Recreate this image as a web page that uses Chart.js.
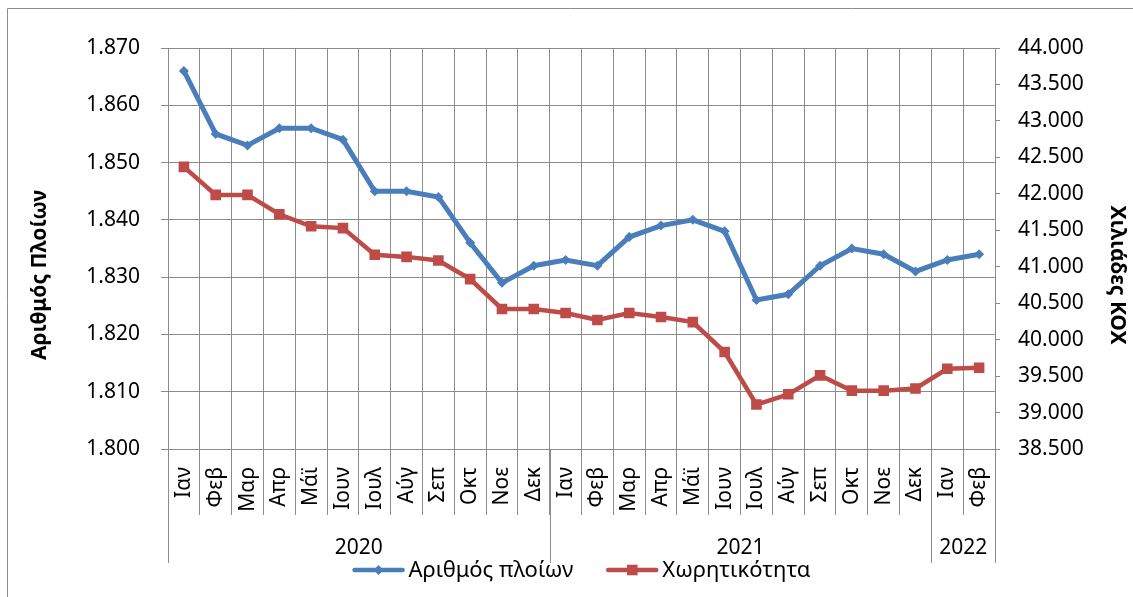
<!DOCTYPE html>
<html>
<head>
<meta charset="utf-8">
<script src="https://cdn.jsdelivr.net/npm/chart.js@4.4.0/dist/chart.umd.min.js"></script>
<style>
  html, body { margin: 0; padding: 0; background: #fff; }
  #wrap { width: 1133px; height: 597px; }
</style>
</head>
<body>
<div id="wrap"><canvas id="shipsChart" width="1133" height="597"></canvas></div>
<script>
const months = ['Ιαν', 'Φεβ', 'Μαρ', 'Απρ', 'Μάϊ', 'Ιουν', 'Ιουλ', 'Αύγ', 'Σεπ', 'Οκτ', 'Νοε', 'Δεκ',
                'Ιαν', 'Φεβ', 'Μαρ', 'Απρ', 'Μάϊ', 'Ιουν', 'Ιουλ', 'Αύγ', 'Σεπ', 'Οκτ', 'Νοε', 'Δεκ',
                'Ιαν', 'Φεβ'];
const years = ['2020', '2021', '2022'];
const yearSpans = [12, 12, 2];

// Αριθμός πλοίων (αριστερός άξονας)
const ships = [1866, 1855, 1853, 1856, 1856, 1854, 1845, 1845, 1844, 1836, 1829, 1832,
               1833, 1832, 1837, 1839, 1840, 1838, 1826, 1827, 1832, 1835, 1834, 1831,
               1833, 1834];
// Χωρητικότητα σε ΚΟΧ (δεξιός άξονας)
const capacity = [42370, 41985, 41985, 41720, 41555, 41530, 41165, 41135, 41085, 40830, 40420, 40420,
                  40365, 40270, 40365, 40310, 40240, 39830, 39110, 39250, 39510, 39300, 39300, 39330,
                  39600, 39615];

const FONT = 'Noto Sans';
const GRID = '#8c8c8c';
const BLUE = '#4A7EBB';
const RED = '#BE4B48';

function dotted(v) {
    return String(v).replace(/\B(?=(\d{3})+(?!\d))/g, '.');
}

function drawMarker(ctx, style, x, y, color) {
    ctx.fillStyle = color;
    ctx.beginPath();
    if (style === 'rectRot') {
        ctx.moveTo(x, y - 5);
        ctx.lineTo(x + 5, y);
        ctx.lineTo(x, y + 5);
        ctx.lineTo(x - 5, y);
        ctx.closePath();
    } else {
        ctx.rect(x - 5.3, y - 5.3, 10.6, 10.6);
    }
    ctx.fill();
}

// Έτη, διαχωριστικά, τίτλοι αξόνων, υπόμνημα
const extras = {
    id: 'extras',
    afterDraw(chart) {
        const ctx = chart.ctx;
        const x = chart.scales.x;
        const area = chart.chartArea;
        const step = x.width / months.length;

        ctx.save();
        ctx.strokeStyle = GRID;
        ctx.lineWidth = 1;

        // πλαίσιο
        ctx.beginPath();
        ctx.moveTo(7.5, 597);
        ctx.lineTo(7.5, 8.5);
        ctx.lineTo(1133, 8.5);
        ctx.stroke();

        // έτη
        ctx.font = '21px "' + FONT + '"';
        ctx.fillStyle = '#000';
        ctx.textAlign = 'center';
        ctx.textBaseline = 'middle';
        let start = 0;
        const sepBottom = area.bottom + 114;
        years.forEach((yr, i) => {
            const x0 = x.left + start * step;
            const x1 = x0 + yearSpans[i] * step;
            ctx.beginPath();
            ctx.moveTo(Math.round(x0) + 0.5, area.bottom);
            ctx.lineTo(Math.round(x0) + 0.5, sepBottom);
            if (i === years.length - 1) {
                ctx.moveTo(Math.round(x1) + 0.5, area.bottom);
                ctx.lineTo(Math.round(x1) + 0.5, sepBottom);
            }
            ctx.stroke();
            ctx.fillText(yr, (x0 + x1) / 2, area.bottom + 99);
            start += yearSpans[i];
        });

        // τίτλοι αξόνων
        ctx.font = 'bold 21px "' + FONT + '"';
        ctx.save();
        ctx.translate(40, 275);
        ctx.rotate(-Math.PI / 2);
        ctx.fillText('Αριθμός Πλοίων', 0, 0);
        ctx.restore();
        ctx.save();
        ctx.translate(1117, 275);
        ctx.rotate(Math.PI / 2);
        ctx.fillText('Χιλιάδες ΚΟΧ', 0, 0);
        ctx.restore();

        // υπόμνημα
        ctx.font = '22px "' + FONT + '"';
        ctx.textAlign = 'left';
        const sets = chart.data.datasets;
        const sample = 52, gapText = 4, gapItem = 33;
        const widths = sets.map(d => ctx.measureText(d.label).width);
        const total = sets.length * (sample + gapText) + widths.reduce((a, b) => a + b, 0) + gapItem * (sets.length - 1);
        let lx = (area.left + area.right) / 2 - total / 2;
        const ly = 570;
        sets.forEach((d, i) => {
            ctx.strokeStyle = d.borderColor;
            ctx.lineWidth = 4.5;
            ctx.lineCap = 'round';
            ctx.beginPath();
            ctx.moveTo(lx + 2, ly);
            ctx.lineTo(lx + sample - 2, ly);
            ctx.stroke();
            drawMarker(ctx, d.pointStyle, lx + sample / 2, ly, d.borderColor);
            ctx.fillStyle = '#000';
            ctx.fillText(d.label, lx + sample + gapText, ly + 1);
            lx += sample + gapText + widths[i] + gapItem;
        });
        ctx.restore();
    }
};

const tickFont = { family: FONT, size: 21 };

new Chart(document.getElementById('shipsChart').getContext('2d'), {
    type: 'line',
    data: {
        labels: months,
        datasets: [{
            label: 'Αριθμός πλοίων',
            data: ships,
            yAxisID: 'y',
            borderColor: BLUE,
            backgroundColor: BLUE,
            borderWidth: 5,
            pointStyle: 'rectRot',
            pointRadius: 5,
            pointBorderWidth: 0,
            tension: 0
        }, {
            label: 'Χωρητικότητα',
            data: capacity,
            yAxisID: 'y1',
            borderColor: RED,
            backgroundColor: RED,
            borderWidth: 4.5,
            pointStyle: 'rect',
            pointRadius: 7.5,
            pointBorderWidth: 0,
            tension: 0
        }]
    },
    options: {
        responsive: false,
        animation: false,
        layout: { padding: { left: 68, right: 38, top: 48, bottom: 48 } },
        plugins: {
            legend: { display: false },
            tooltip: { enabled: false }
        },
        scales: {
            x: {
                offset: true,
                grid: { offset: true, color: GRID, tickColor: GRID, tickLength: 66 },
                border: { color: GRID },
                ticks: {
                    autoSkip: false,
                    minRotation: 90,
                    maxRotation: 90,
                    padding: -48,
                    color: '#000',
                    font: tickFont
                },
                afterFit(s) { s.height = 100; }
            },
            y: {
                position: 'left',
                min: 1800,
                max: 1870,
                ticks: { stepSize: 10, padding: 21, color: '#000', font: tickFont, callback: v => dotted(v) },
                grid: { color: GRID, tickColor: GRID, tickLength: 7 },
                border: { color: GRID },
                afterFit(s) { s.width = 100; }
            },
            y1: {
                position: 'right',
                min: 38500,
                max: 44000,
                ticks: { stepSize: 500, padding: 18, color: '#000', font: tickFont, callback: v => dotted(v) },
                grid: { drawOnChartArea: false, color: GRID, tickColor: GRID, tickLength: 5 },
                border: { color: GRID },
                afterFit(s) { s.width = 100; }
            }
        }
    },
    plugins: [extras]
});
</script>
</body>
</html>
